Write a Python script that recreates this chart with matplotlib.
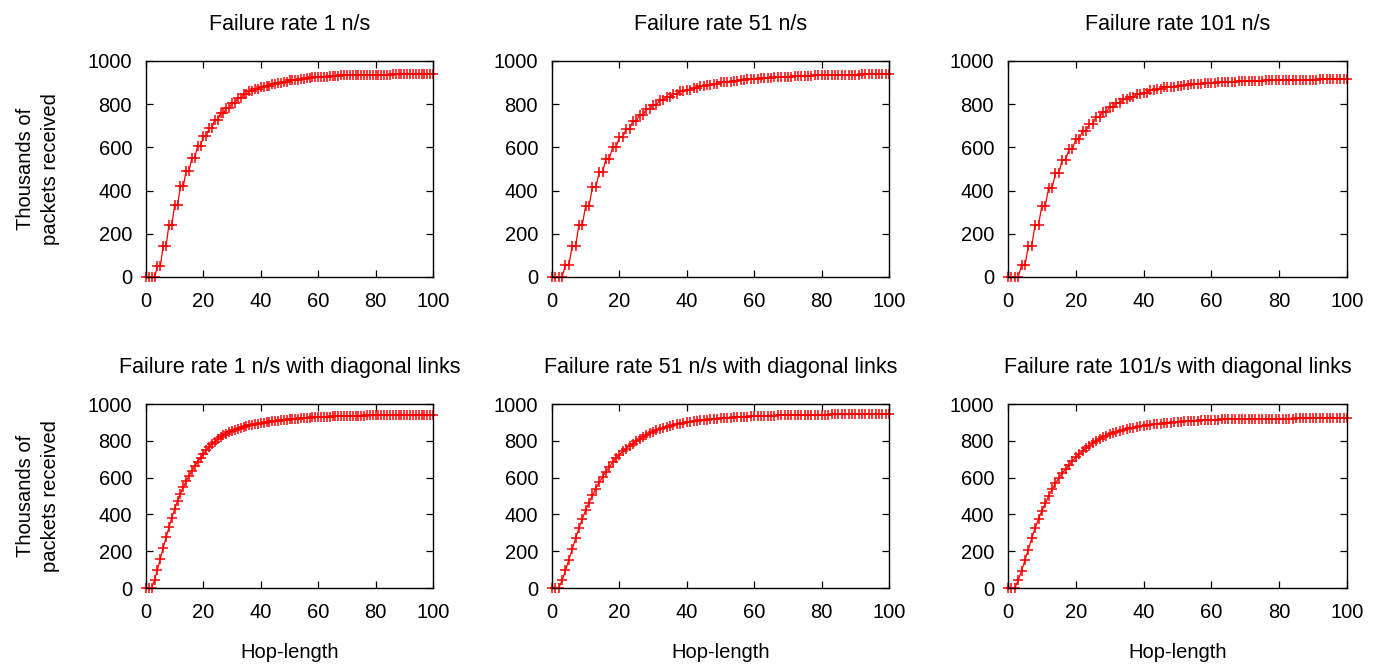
import numpy as np
import matplotlib
matplotlib.use("Agg")
import matplotlib.pyplot as plt

plt.rcParams['font.family'] = ['Liberation Sans', 'DejaVu Sans']
plt.rcParams['font.size'] = 14.5

hops = list(range(0, 101))

# top row: no diagonal links
rate1 = [0, 0, 0, 0, 51, 51, 144, 144, 242, 242,
         333, 333, 419, 419, 493, 493, 552, 552, 606, 606,
         651, 651, 691, 691, 729, 729, 757, 757, 783, 783,
         806, 806, 828, 828, 845, 845, 859, 859, 870, 870,
         878, 878, 886, 886, 893, 893, 899, 899, 905, 905,
         910, 910, 914, 914, 918, 918, 921, 921, 924, 924,
         926, 926, 928, 928, 930, 930, 931, 931, 933, 933,
         934, 934, 935, 935, 935, 935, 936, 936, 936, 936,
         937, 937, 937, 937, 937, 937, 938, 938, 938, 938,
         938, 938, 938, 938, 939, 939, 939, 939, 939, 939,
         939]
rate51 = [0, 0, 0, 0, 54, 54, 144, 144, 242, 242,
          330, 330, 415, 415, 484, 484, 547, 547, 601, 601,
          648, 648, 685, 685, 721, 721, 752, 752, 777, 777,
          798, 798, 819, 819, 834, 834, 847, 847, 859, 859,
          868, 868, 876, 876, 883, 883, 889, 889, 895, 895,
          901, 901, 905, 905, 909, 909, 912, 912, 915, 915,
          918, 918, 920, 920, 922, 922, 924, 924, 926, 926,
          928, 928, 929, 929, 931, 931, 932, 932, 933, 933,
          934, 934, 935, 935, 936, 936, 936, 936, 937, 937,
          937, 937, 938, 938, 938, 938, 939, 939, 939, 939,
          940]
rate101 = [0, 0, 0, 0, 54, 54, 144, 144, 242, 242,
           330, 330, 412, 412, 481, 481, 543, 543, 592, 592,
           640, 640, 676, 676, 710, 710, 741, 741, 764, 764,
           788, 788, 806, 806, 822, 822, 834, 834, 845, 845,
           854, 854, 865, 865, 871, 871, 878, 878, 881, 881,
           885, 885, 889, 889, 892, 892, 895, 895, 897, 897,
           899, 899, 901, 901, 903, 903, 905, 905, 906, 906,
           907, 907, 908, 908, 909, 909, 910, 910, 911, 911,
           912, 912, 912, 912, 913, 913, 913, 913, 914, 914,
           914, 914, 915, 915, 915, 915, 915, 915, 916, 916,
           916]

# bottom row: with diagonal links
diag1 = [0, 0, 0, 45, 100, 160, 218, 275, 330, 382,
         430, 472, 512, 548, 580, 610, 637, 662, 686, 708,
         728, 748, 766, 782, 796, 809, 820, 830, 839, 847,
         854, 860, 866, 871, 876, 880, 884, 887, 890, 893,
         896, 899, 901, 903, 905, 907, 909, 911, 913, 915,
         917, 918, 920, 921, 923, 924, 925, 926, 927, 928,
         929, 930, 931, 931, 932, 933, 933, 934, 934, 935,
         935, 936, 936, 936, 937, 937, 937, 938, 938, 938,
         938, 939, 939, 939, 939, 939, 939, 940, 940, 940,
         940, 940, 940, 940, 940, 940, 940, 940, 940, 940,
         940]
diag51 = [0, 0, 0, 42, 96, 154, 210, 270, 325, 376,
          424, 464, 503, 540, 574, 604, 632, 658, 683, 705,
          724, 742, 758, 772, 785, 797, 808, 820, 830, 840,
          849, 857, 864, 870, 876, 881, 886, 890, 894, 897,
          900, 903, 906, 909, 911, 913, 915, 917, 919, 921,
          922, 924, 925, 926, 928, 929, 930, 931, 932, 933,
          934, 934, 935, 936, 936, 937, 937, 938, 938, 939,
          939, 939, 940, 940, 940, 941, 941, 941, 941, 942,
          942, 942, 942, 943, 943, 943, 943, 943, 944, 944,
          944, 944, 944, 944, 945, 945, 945, 945, 945, 945,
          945]
diag101 = [0, 0, 0, 42, 93, 151, 209, 270, 325, 375,
           420, 460, 500, 536, 568, 598, 624, 647, 668, 690,
           710, 727, 744, 760, 774, 786, 798, 810, 820, 828,
           836, 843, 850, 855, 860, 864, 868, 872, 876, 879,
           882, 885, 887, 889, 891, 893, 895, 897, 899, 901,
           903, 904, 906, 907, 908, 909, 910, 911, 912, 913,
           914, 915, 915, 916, 916, 917, 917, 918, 918, 918,
           919, 919, 919, 919, 920, 920, 920, 920, 920, 921,
           921, 921, 921, 921, 921, 922, 922, 922, 922, 922,
           922, 922, 922, 922, 923, 923, 923, 923, 923, 923,
           923]

series = [rate1, rate51, rate101, diag1, diag51, diag101]
titles = ["Failure rate 1 n/s", "Failure rate 51 n/s", "Failure rate 101 n/s",
          "Failure rate 1 n/s with diagonal links",
          "Failure rate 51 n/s with diagonal links",
          "Failure rate 101/s with diagonal links"]

W, H = 1384, 666
fig = plt.figure(figsize=(W / 100, H / 100), dpi=100)

# panel boxes in pixels: left, right / top, bottom
cols = [(146, 433), (552, 889), (1008, 1347)]
rows = [(61, 277), (404, 588)]

for i, vals in enumerate(series):
    r, c = divmod(i, 3)
    x0, x1 = cols[c]
    y0, y1 = rows[r]
    ax = fig.add_axes([x0 / W, 1 - y1 / H, (x1 - x0) / W, (y1 - y0) / H])
    ax.plot(hops, vals, color="red", lw=0.9, marker="+", ms=6.5, mew=1.1, clip_on=False)
    ax.set_xlim(0, 100)
    ax.set_ylim(0, 1000)
    ax.set_xticks(range(0, 101, 20))
    ax.set_yticks(range(0, 1001, 200))
    ax.tick_params(direction="in", length=5, width=0.9, top=True, right=True)
    ax.tick_params(axis="x", pad=10.5)
    ax.tick_params(axis="y", pad=10)
    for s in ax.spines.values():
        s.set_linewidth(1.0)
    ax.set_title(titles[i], pad=22, fontsize=15.5)
    if c == 0:
        ax.set_ylabel("Thousands of\npackets received", linespacing=1.4)
        ax.yaxis.set_label_coords(-0.30, 0.5)
    if r == 1:
        ax.set_xlabel("Hop-length")
        ax.xaxis.set_label_coords(0.5, -0.30)

fig.savefig("out.png", dpi=100)
